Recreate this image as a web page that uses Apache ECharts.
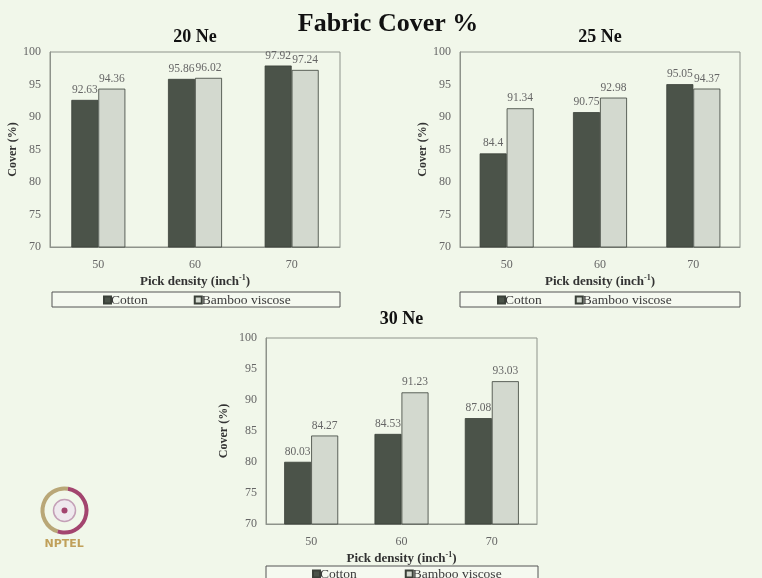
<!DOCTYPE html>
<html>
<head>
<meta charset="utf-8">
<script src="https://cdn.jsdelivr.net/npm/echarts@6/dist/echarts.min.js"></script>
<style>
  html, body { margin: 0; padding: 0; background: #f1f7ea; }
  #chart { width: 762px; height: 578px; }
</style>
</head>
<body>
<div id="chart"></div>
<script>
// Pick density categories shared by all three yarn counts
const pickDensity = ['50', '60', '70'];
const seriesNames = ['Cotton', 'Bamboo viscose'];

// Fabric cover (%) per yarn count
const cotton20 = [92.63, 95.86, 97.92];
const bamboo20 = [94.36, 96.02, 97.24];
const cotton25 = [84.4, 90.75, 95.05];
const bamboo25 = [91.34, 92.98, 94.37];
const cotton30 = [80.03, 84.53, 87.08];
const bamboo30 = [84.27, 91.23, 93.03];

const panelTitles = ['20 Ne', '25 Ne', '30 Ne'];
const yTicks = { min: 70, max: 100, interval: 5 };

const SERIF = '"Liberation Serif", "DejaVu Serif", serif';
const COTTON = '#4b5349';
const BAMBOO = '#d3d9cf';
const AXIS = '#8e938b';

// Panel layout
const grids = [
  { left: 50, top: 52, width: 290, height: 195 },
  { left: 460, top: 52, width: 280, height: 195 },
  { left: 266, top: 338, width: 271, height: 186 }
];
const titleTops = [28, 28, 310];
const yNameGaps = [28, 25, 36];
const legendBoxes = [
  { x: 52, y: 292, w: 288, h: 15 },
  { x: 460, y: 292, w: 280, h: 15 },
  { x: 266, y: 566, w: 272, h: 15 }
];
const legendItemLeft = [103, 497, 312];
const legendItemGap = [46, 33, 48];

const chart = echarts.init(document.getElementById('chart'));

const xAxes = grids.map((g, i) => ({
  type: 'category',
  gridIndex: i,
  data: pickDensity,
  axisLine: { lineStyle: { color: AXIS } },
  axisTick: { show: false },
  axisLabel: { fontFamily: SERIF, fontSize: 12, color: '#666', margin: 12 },
  name: '{b|Pick density (inch}{s|-1}{b|)}',
  nameLocation: 'middle',
  nameGap: 27,
  nameTextStyle: {
    rich: {
      b: { fontFamily: SERIF, fontSize: 13, fontWeight: 'bold', color: '#333' },
      s: { fontFamily: SERIF, fontSize: 8, fontWeight: 'bold', color: '#333', verticalAlign: 'top', padding: [0, 0, 7, 0] }
    }
  }
}));

const yAxes = grids.map((g, i) => ({
  type: 'value',
  gridIndex: i,
  min: yTicks.min,
  max: yTicks.max,
  interval: yTicks.interval,
  axisLine: { show: true, lineStyle: { color: AXIS } },
  axisTick: { show: false },
  splitLine: { show: false },
  axisLabel: { fontFamily: SERIF, fontSize: 12, color: '#666', margin: 9 },
  name: 'Cover (%)',
  nameLocation: 'middle',
  nameGap: yNameGaps[i],
  nameTextStyle: { fontFamily: SERIF, fontSize: 12, fontWeight: 'bold', color: '#333' }
}));

const valueLabel = {
  show: true,
  position: 'top',
  distance: 4,
  fontFamily: SERIF,
  fontSize: 11.5,
  color: '#666'
};

function barSeries(name, data, idx, color) {
  return {
    name: name,
    type: 'bar',
    xAxisIndex: idx,
    yAxisIndex: idx,
    data: data,
    barWidth: 27,
    barGap: '0%',
    itemStyle: { color: color, borderColor: '#3a4038', borderWidth: 0.8 },
    label: valueLabel
  };
}

const data = [
  [cotton20, bamboo20],
  [cotton25, bamboo25],
  [cotton30, bamboo30]
];

const series = [];
data.forEach((pair, i) => {
  series.push(barSeries(seriesNames[0], pair[0], i, COTTON));
  series.push(barSeries(seriesNames[1], pair[1], i, BAMBOO));
});

const titles = [
  {
    text: 'Fabric Cover %',
    left: 383, top: 6, textAlign: 'center',
    textStyle: { fontFamily: SERIF, fontSize: 26, fontWeight: 'bold', color: '#111' }
  }
].concat(panelTitles.map((t, i) => ({
  text: t,
  left: grids[i].left + grids[i].width / 2,
  top: titleTops[i],
  padding: 0,
  textAlign: 'center',
  textStyle: { fontFamily: SERIF, fontSize: 18, fontWeight: 'bold', color: '#111' }
})));

const legends = grids.map((g, i) => ({
  data: seriesNames,
  left: legendItemLeft[i],
  top: legendBoxes[i].y + 1,
  orient: 'horizontal',
  itemWidth: 7,
  itemHeight: 7,
  itemGap: legendItemGap[i],
  padding: 0,
  icon: 'rect',
  textStyle: { fontFamily: SERIF, fontSize: 13.5, color: '#3a3a3a', padding: [1, 0, 0, -5] }
}));

// Outline boxes around each legend
const legendFrames = legendBoxes.map(b => ({
  type: 'rect',
  z: -1,
  shape: { x: b.x, y: b.y, width: b.w, height: b.h },
  style: { fill: '#f5f9f0', stroke: '#555', lineWidth: 1 }
}));

chart.setOption({
  backgroundColor: '#f1f7ea',
  animation: false,
  title: titles,
  legend: legends,
  grid: grids.map(g => Object.assign({ show: true, borderColor: AXIS, borderWidth: 1, backgroundColor: 'transparent' }, g)),
  xAxis: xAxes,
  yAxis: yAxes,
  series: series,
  graphic: legendFrames.concat([
    {
      type: 'group', left: 40, top: 486,
      children: [
        { type: 'arc', shape: { cx: 22, cy: 26, r: 22, startAngle: Math.PI * 0.6, endAngle: Math.PI * 1.55 },
          style: { stroke: '#b9a777', lineWidth: 4, fill: null } },
        { type: 'arc', shape: { cx: 22, cy: 26, r: 22, startAngle: -Math.PI * 0.45, endAngle: Math.PI * 0.6 },
          style: { stroke: '#a3456f', lineWidth: 4, fill: null } },
        { type: 'circle', shape: { cx: 22, cy: 26, r: 11 },
          style: { stroke: '#c4a0b7', lineWidth: 1.5, fill: '#efe9ee' } },
        { type: 'circle', shape: { cx: 22, cy: 26, r: 3 }, style: { fill: '#a3456f' } },
        { type: 'text', left: 2, top: 54,
          style: { text: 'NPTEL', fontFamily: '"DejaVu Sans", sans-serif', fontWeight: 'bold', fontSize: 11, fill: '#c0a05a' } }
      ]
    }
  ])
});
</script>
</body>
</html>
